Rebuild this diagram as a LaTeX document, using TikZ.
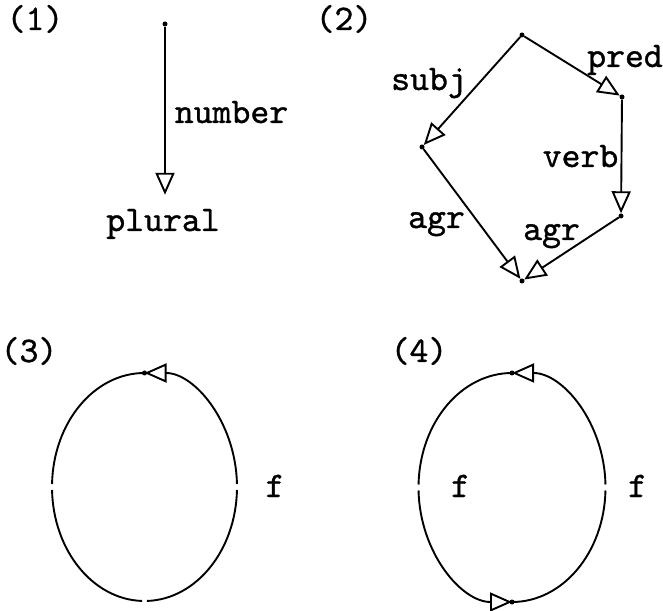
\documentclass[tikz,border=0pt]{standalone}
\usepackage{fontspec}
\newfontfamily\cour{lmmono10-regular.otf}[FakeBold=1]
\usetikzlibrary{arrows.meta,calc}
\begin{document}
\begin{tikzpicture}[x=1pt,y=1pt,
  dot/.style={circle,fill,inner sep=0pt,minimum size=5pt},
  lbl/.style={font=\cour\fontsize{36}{40}\selectfont,inner sep=0pt,anchor=base},
  edge/.style={line width=1.9pt},
  arr/.style={edge,-{Triangle[open,length=22pt,width=19pt]}}]
\useasboundingbox (0,0) rectangle (663,610);
% (1)
\node[lbl] at (35,580) {(1)};
\node[dot] (a1) at (165,586) {};
\node[lbl] (plural) at (163,379) {plural};
\node[lbl] at (231.5,487) {number};
\draw[arr,shorten >=14pt] (a1) -- (a1 |- plural.north);
% (2)
\node[lbl] at (344,580) {(2)};
\node[dot] (t) at (522,575) {};
\node[dot] (p) at (622,513) {};
\node[dot] (s) at (422,463) {};
\node[dot] (v) at (621,394) {};
\node[dot] (b) at (522,329) {};
\draw[arr] (t) -- (p);
\draw[arr] (t) -- (s);
\draw[arr] (p) -- (v);
\draw[arr] (s) -- (b);
\draw[arr] (v) -- (b);
\node[lbl] at (625,543) {pred};
\node[lbl] at (429,520) {subj};
\node[lbl] at (580.5,443) {verb};
\node[lbl] at (436.5,382) {agr};
\node[lbl] at (551.5,370) {agr};
% (3)
\node[lbl] at (29,248) {(3)};
\coordinate (c3) at (144.5,123);
\node[dot] (n3) at (144.5,237) {};
\draw[arr] (n3.center) arc[start angle=90,end angle=178.5,x radius=92.5,y radius=114]
  ($(c3)+(181.5:92.5 and 114)$) arc[start angle=181.5,end angle=268.5,x radius=92.5,y radius=114]
  ($(c3)+(271.5:92.5 and 114)$) arc[start angle=271.5,end angle=358.5,x radius=92.5,y radius=114]
  ($(c3)+(1.5:92.5 and 114)$) arc[start angle=1.5,end angle=90,x radius=92.5,y radius=114];
\node[lbl] at (275,113) {f};
% (4)
\node[lbl] at (419,248) {(4)};
\coordinate (c4) at (512,122.5);
\node[dot] (n4t) at (512,237) {};
\node[dot] (n4b) at (512,8) {};
\draw[arr] (n4t.center) arc[start angle=90,end angle=178.5,x radius=93.5,y radius=114.5]
  ($(c4)+(181.5:93.5 and 114.5)$) arc[start angle=181.5,end angle=270,x radius=93.5,y radius=114.5];
\draw[arr] (n4b.center) arc[start angle=270,end angle=358.5,x radius=93.5,y radius=114.5]
  ($(c4)+(1.5:93.5 and 114.5)$) arc[start angle=1.5,end angle=90,x radius=93.5,y radius=114.5];
\node[lbl] at (460.5,113) {f};
\node[lbl] at (637.5,113) {f};
\end{tikzpicture}
\end{document}
